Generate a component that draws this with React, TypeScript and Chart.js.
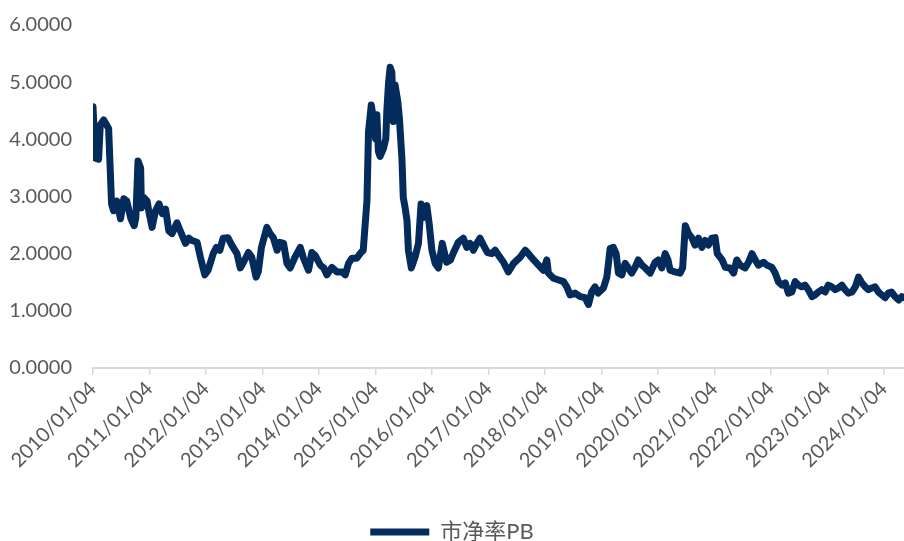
import React, { useEffect, useRef } from 'react';
import { Chart, registerables } from 'chart.js';

Chart.register(...registerables);

// Year ticks on the date axis
const tickLabels = [
  '2010/01/04', '2011/01/04', '2012/01/04', '2013/01/04', '2014/01/04',
  '2015/01/04', '2016/01/04', '2017/01/04', '2018/01/04', '2019/01/04',
  '2020/01/04', '2021/01/04', '2022/01/04', '2023/01/04', '2024/01/04',
];

const yTicks = [0, 1, 2, 3, 4, 5, 6];

// Observation dates and the matching price-to-book ratio
const dates = [
  '2010-01-04', '2010-01-20', '2010-02-09', '2010-02-20', '2010-03-14', '2010-04-02', '2010-04-15', '2010-05-04',
  '2010-05-17', '2010-06-07', '2010-07-01', '2010-07-22', '2010-08-10', '2010-09-06', '2010-09-27', '2010-10-08',
  '2010-10-22', '2010-11-08', '2010-11-13', '2010-11-29', '2010-12-20', '2010-12-30',
  '2011-01-21', '2011-02-12', '2011-03-07', '2011-03-28', '2011-04-18', '2011-05-09', '2011-05-30', '2011-07-01',
  '2011-07-22', '2011-08-25', '2011-09-15', '2011-10-06', '2011-11-08', '2011-11-29', '2011-12-28',
  '2012-01-18', '2012-02-20', '2012-03-12', '2012-04-03', '2012-04-24', '2012-05-25', '2012-06-19', '2012-07-23',
  '2012-08-13', '2012-09-03', '2012-10-05', '2012-10-26', '2012-11-23', '2012-12-07', '2012-12-28',
  '2013-02-01', '2013-02-22', '2013-03-15', '2013-04-08', '2013-04-26', '2013-05-20', '2013-06-11', '2013-07-02',
  '2013-08-02', '2013-09-05', '2013-09-26', '2013-10-28', '2013-11-19', '2013-12-10',
  '2014-01-13', '2014-02-04', '2014-02-24', '2014-03-28', '2014-04-30', '2014-06-03', '2014-06-23', '2014-07-14',
  '2014-08-05', '2014-09-05', '2014-09-26', '2014-10-17', '2014-11-10', '2014-11-20', '2014-12-08', '2014-12-22',
  '2015-01-05', '2015-01-13', '2015-01-23', '2015-02-03', '2015-02-25', '2015-03-12', '2015-03-19', '2015-03-30',
  '2015-04-09', '2015-04-20', '2015-04-30', '2015-05-11', '2015-05-29', '2015-06-08', '2015-06-24', '2015-07-03',
  '2015-07-15', '2015-07-27', '2015-08-05', '2015-08-24', '2015-09-17', '2015-10-09', '2015-10-26', '2015-11-10',
  '2015-12-02', '2015-12-17',
  '2016-01-04', '2016-01-25', '2016-02-15', '2016-03-11', '2016-04-08', '2016-05-03', '2016-05-23', '2016-06-23',
  '2016-07-25', '2016-08-16', '2016-09-07', '2016-09-28', '2016-10-20', '2016-11-10', '2016-12-02', '2016-12-28',
  '2017-01-26', '2017-02-16', '2017-03-10', '2017-04-11', '2017-05-12', '2017-06-15', '2017-07-28', '2017-08-29',
  '2017-09-19', '2017-10-23', '2017-11-23', '2017-12-25',
  '2018-01-16', '2018-01-26', '2018-02-28', '2018-04-02', '2018-05-04', '2018-05-25', '2018-06-15', '2018-07-18',
  '2018-08-20', '2018-09-21', '2018-10-12', '2018-11-02', '2018-11-23', '2018-12-14',
  '2019-01-17', '2019-02-08', '2019-03-01', '2019-03-22', '2019-04-09', '2019-04-24', '2019-05-16', '2019-06-06',
  '2019-06-27', '2019-07-19', '2019-08-09', '2019-08-30', '2019-09-23', '2019-10-14', '2019-11-15', '2019-12-17',
  '2020-01-07', '2020-01-29', '2020-02-20', '2020-03-09', '2020-03-23', '2020-04-24', '2020-05-26', '2020-06-12',
  '2020-06-29', '2020-07-20', '2020-08-10', '2020-08-31', '2020-09-22', '2020-10-14', '2020-11-04', '2020-11-25',
  '2020-12-17',
  '2021-01-08', '2021-01-22', '2021-02-22', '2021-03-15', '2021-04-15', '2021-05-07', '2021-05-28', '2021-06-18',
  '2021-07-21', '2021-08-12', '2021-09-03', '2021-09-24', '2021-10-15', '2021-11-17', '2021-12-09',
  '2022-01-10', '2022-01-31', '2022-02-21', '2022-03-15', '2022-04-06', '2022-04-27', '2022-05-19', '2022-06-09',
  '2022-07-01', '2022-07-22', '2022-08-12', '2022-09-02', '2022-09-26', '2022-10-17', '2022-11-07', '2022-11-29',
  '2022-12-20',
  '2023-01-10', '2023-02-01', '2023-02-23', '2023-03-16', '2023-04-07', '2023-04-28', '2023-05-19', '2023-06-12',
  '2023-07-03', '2023-07-24', '2023-08-14', '2023-09-05', '2023-09-26', '2023-10-18', '2023-11-08', '2023-11-29',
  '2023-12-21',
  '2024-01-12', '2024-02-02', '2024-02-23', '2024-03-15', '2024-04-08', '2024-04-29', '2024-05-13',
];

const pb = [
  4.57, 3.67, 3.65, 4.25, 4.34, 4.25, 4.19, 2.87,
  2.75, 2.92, 2.61, 2.96, 2.92, 2.61, 2.49, 2.63,
  3.62, 3.50, 2.80, 2.98, 2.92, 2.75,
  2.46, 2.75, 2.87, 2.70, 2.78, 2.40, 2.35, 2.54,
  2.40, 2.18, 2.27, 2.23, 2.20, 1.94, 1.63,
  1.71, 2.00, 2.11, 2.06, 2.27, 2.28, 2.15, 2.00,
  1.75, 1.85, 2.02, 1.94, 1.59, 1.68, 2.11,
  2.46, 2.35, 2.28, 2.06, 2.20, 2.18, 1.83, 1.75,
  1.94, 2.11, 1.92, 1.71, 2.02, 1.97,
  1.80, 1.75, 1.63, 1.76, 1.68, 1.68, 1.63, 1.83,
  1.92, 1.92, 2.00, 2.06, 2.92, 4.13, 4.60, 4.36,
  4.01, 4.43, 3.79, 3.70, 3.84, 4.01, 4.52, 5.00,
  5.26, 5.17, 4.31, 4.95, 4.65, 4.36, 3.67, 2.98,
  2.80, 2.58, 2.06, 1.75, 1.94, 2.18, 2.87, 2.63,
  2.84, 2.53,
  2.06, 1.83, 1.75, 2.18, 1.85, 1.89, 2.02, 2.20,
  2.27, 2.11, 2.18, 2.06, 2.18, 2.27, 2.15, 2.02,
  2.00, 2.06, 1.97, 1.85, 1.68, 1.83, 1.94, 2.06,
  2.00, 1.89, 1.80, 1.71,
  1.89, 1.66, 1.57, 1.54, 1.51, 1.42, 1.28, 1.31,
  1.25, 1.23, 1.11, 1.33, 1.42, 1.31,
  1.40, 1.59, 2.09, 2.11, 2.00, 1.66, 1.63, 1.83,
  1.75, 1.66, 1.76, 1.89, 1.80, 1.75, 1.66, 1.85,
  1.89, 1.75, 2.00, 1.89, 1.71, 1.68, 1.66, 1.75,
  2.49, 2.35, 2.28, 2.15, 2.27, 2.11, 2.23, 2.15,
  2.27,
  2.28, 2.00, 1.89, 1.76, 1.75, 1.66, 1.89, 1.80,
  1.75, 1.85, 2.00, 1.89, 1.80, 1.85, 1.80,
  1.76, 1.66, 1.51, 1.45, 1.49, 1.31, 1.33, 1.51,
  1.45, 1.42, 1.45, 1.37, 1.25, 1.28, 1.33, 1.37,
  1.33,
  1.45, 1.42, 1.37, 1.40, 1.45, 1.37, 1.31, 1.33,
  1.42, 1.59, 1.49, 1.42, 1.37, 1.40, 1.42, 1.33,
  1.28,
  1.23, 1.31, 1.33, 1.25, 1.19, 1.25, 1.23,
];

const LINE_COLOR = '#032b5b';
const TEXT_COLOR = '#595959';
const FONT_FAMILY = "Lato, 'Noto Sans CJK SC', sans-serif";

// Day number (UTC) of a 'YYYY-MM-DD' or 'YYYY/MM/DD' string
const toDay = (s: string): number => {
  const [y, m, d] = s.split(/[-/]/).map(Number);
  return Date.UTC(y, m - 1, d) / 86400000;
};

export default function App() {
  const canvasRef = useRef<HTMLCanvasElement | null>(null);

  useEffect(() => {
    document.body.style.margin = '0';
    const canvas = canvasRef.current;
    if (!canvas) return;

    const points = dates.map((d, i) => ({ x: toDay(d), y: pb[i] }));

    const chart = new Chart(canvas, {
      type: 'line',
      data: {
        datasets: [
          {
            label: '市净率PB',
            data: points,
            borderColor: LINE_COLOR,
            backgroundColor: LINE_COLOR,
            borderWidth: 7,
            borderJoinStyle: 'round',
            borderCapStyle: 'round',
            pointRadius: 0,
            pointHoverRadius: 0,
            tension: 0,
            fill: false,
          },
        ],
      },
      options: {
        animation: false,
        responsive: false,
        maintainAspectRatio: false,
        layout: { padding: { top: 22, right: 0, bottom: -12, left: 0 } },
        plugins: {
          tooltip: { enabled: false },
          legend: {
            position: 'bottom',
            labels: {
              usePointStyle: true,
              pointStyle: 'line',
              pointStyleWidth: 59,
              color: TEXT_COLOR,
              font: { family: FONT_FAMILY, size: 22 },
              padding: 6,
            },
          },
        },
        scales: {
          x: {
            type: 'linear',
            min: toDay(dates[0]),
            max: toDay(dates[dates.length - 1]),
            afterBuildTicks: (scale: any) => {
              scale.ticks = tickLabels.map((l) => ({ value: toDay(l) }));
            },
            afterFit: (scale: any) => {
              scale.height = 147;
            },
            ticks: {
              autoSkip: false,
              minRotation: 45,
              maxRotation: 45,
              color: TEXT_COLOR,
              font: { family: FONT_FAMILY, size: 20 },
              padding: 2,
              callback: (_v: any, i: number) => tickLabels[i],
            },
            grid: {
              display: true,
              drawOnChartArea: false,
              drawTicks: true,
              tickLength: 7,
              color: '#d9d9d9',
              lineWidth: 1.5,
            },
            border: { display: true, color: '#d9d9d9', width: 2 },
          },
          y: {
            min: 0,
            max: 6,
            afterBuildTicks: (scale: any) => {
              scale.ticks = yTicks.map((v) => ({ value: v }));
            },
            afterFit: (scale: any) => {
              scale.width = 93;
            },
            ticks: {
              color: TEXT_COLOR,
              font: { family: FONT_FAMILY, size: 20 },
              padding: 13,
              callback: (v: any) => Number(v).toFixed(4),
            },
            grid: { display: false },
            border: { display: false },
          },
        },
      },
    });

    return () => chart.destroy();
  }, []);

  return (
    <div style={{ width: 904, height: 541, background: '#ffffff' }}>
      <canvas ref={canvasRef} width={904} height={541} style={{ display: 'block' }} />
    </div>
  );
}
